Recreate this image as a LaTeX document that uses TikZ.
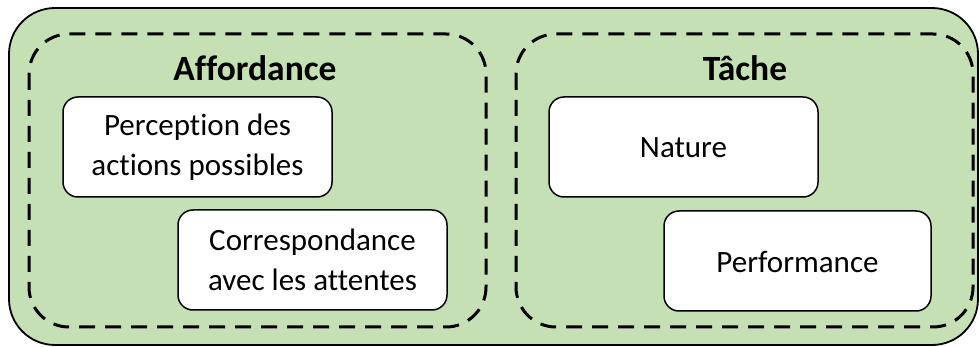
\documentclass[tikz,border=0pt]{standalone}
\usepackage{fontspec}
\setmainfont{Carlito}[Ligatures=NoCommon]
\definecolor{bggreen}{HTML}{C5E0B4}
\begin{document}
\begin{tikzpicture}[x=1pt,y=-1pt,
  outerbox/.style={draw=black,line width=1.8pt,fill=bggreen,rounded corners=46pt},
  groupbox/.style={draw=black,line width=3pt,dash pattern=on 16pt off 10pt,rounded corners=40pt},
  itembox/.style={draw=black,line width=1.5pt,fill=white,rounded corners=15pt},
  itemtext/.style={font=\fontsize{31}{40}\selectfont,align=center,text=black},
  titletext/.style={font=\fontsize{35.5}{40}\selectfont\bfseries,text=black}]
\useasboundingbox (0,0) rectangle (980,347);
\draw[outerbox] (9,8) rectangle (978,345);
\draw[groupbox] (29,34) rectangle (486,327);
\draw[groupbox] (516,34) rectangle (973,327);
\node[titletext] (t1) at (255,68) {Affordance};
\node[titletext] (t2) at (745,68) {Tâche};
\draw[itembox] (63,97) rectangle (332,197);
\node[itemtext] (a1) at (197.5,147) {Perception des\\actions possibles};
\draw[itembox] (178,210) rectangle (447,310);
\node[itemtext] (a2) at (312.5,260) {Correspondance\\avec les attentes};
\draw[itembox] (549,97) rectangle (818,197);
\node[itemtext] (b1) at (683.5,148) {Nature};
\draw[itembox] (664,211) rectangle (931,311);
\node[itemtext] (b2) at (797.5,262) {Performance};
\end{tikzpicture}
\end{document}
